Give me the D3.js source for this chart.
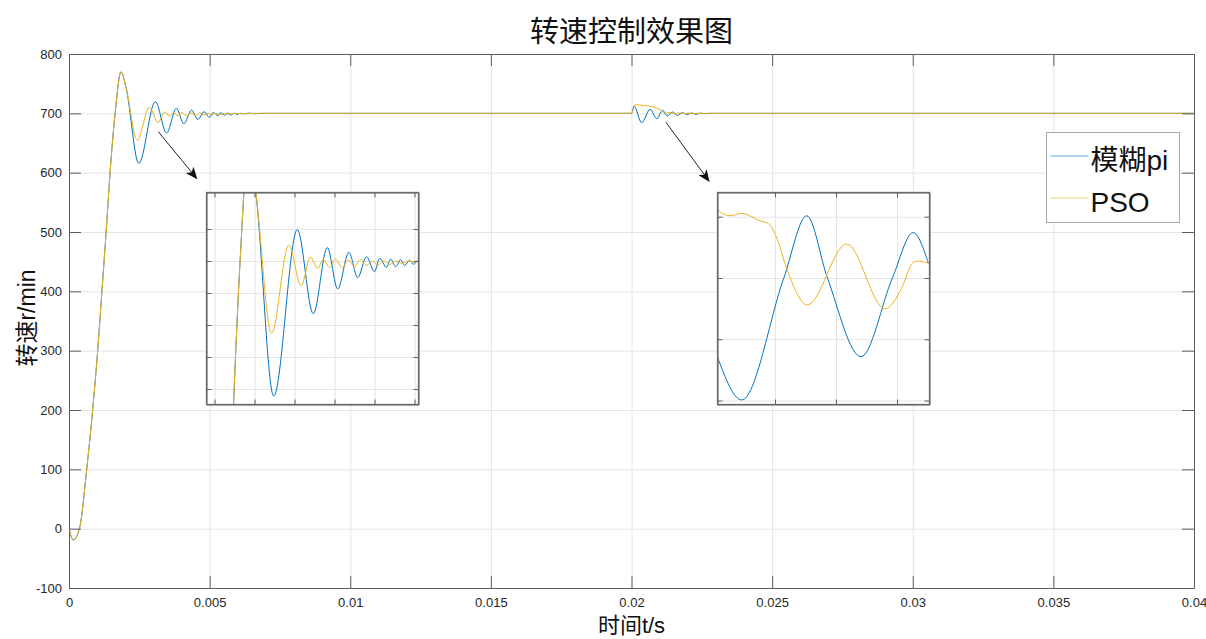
<!DOCTYPE html>
<meta charset="utf-8">
<style>
body { margin: 0; background: #fff; }
svg { display: block; font-family: "Liberation Sans", Arial, sans-serif; }
.grid line { stroke: #e4e4e4; stroke-width: 1px; }
.grid path { display: none; }
.axis path, .axis line { stroke: #5e5e5e; stroke-width: 1px; }
.axis text { fill: #262626; font-size: 13px; }
.line { fill: none; stroke-width: 1px; stroke-linejoin: round; }
.cjk { font-family: "Liberation Sans", "Noto Sans CJK SC", sans-serif; fill: #111; }
</style>
<svg width="1206" height="639"></svg>
<script src="https://cdn.jsdelivr.net/npm/d3@7/dist/d3.min.js"></script>
<script>
var title = "转速控制效果图",
    xLabel = "时间t/s",
    yLabel = "转速r/min",
    seriesNames = ["模糊pi", "PSO"],
    colors = ["#0072BD", "#EDB120"];

var xTicks = [0, 0.005, 0.01, 0.015, 0.02, 0.025, 0.03, 0.035, 0.04];
var yTicks = [-100, 0, 100, 200, 300, 400, 500, 600, 700, 800];

// start-up, both controllers overlap up to the first peak
var rise = [[0, 0], [0.00015, -19], [0.00037, 0], [0.00063, 100], [0.00084, 200],
  [0.00102, 300], [0.00117, 400], [0.00132, 500], [0.00146, 600], [0.00164, 700],
  [0.00185, 770]];

var fuzzyTail = [[0.00203, 743], [0.00248, 615.6], [0.00307, 719.6], [0.00347, 667],
  [0.00382, 708.4], [0.00408, 682.5], [0.00436, 705.4], [0.00458, 689.6], [0.0048, 702.7],
  [0.005, 693.3], [0.00513, 701.7], [0.0053, 696], [0.0054, 701.2], [0.00553, 696.5],
  [0.00565, 700.8], [0.00575, 697.1], [0.00588, 700.4], [0.00597, 697.9], [0.00608, 700],
  [0.0062, 699.2], [0.0064, 700.3], [0.0066, 699.5], [0.0069, 700], [0.02, 700],
  [0.02009, 712.4], [0.02036, 684.3], [0.02066, 706.7], [0.0209, 691], [0.02111, 705],
  [0.02127, 695.5], [0.02146, 702.3], [0.02163, 696.6], [0.02182, 701.1], [0.02196, 697.7],
  [0.02214, 700.6], [0.02229, 698.3], [0.02245, 700.3], [0.0226, 699.5], [0.0228, 700],
  [0.04, 700]];

var psoTail = [[0.00203, 743], [0.002425, 654.8], [0.002858, 710], [0.003167, 684.6],
  [0.0034, 702.3], [0.003583, 695.4], [0.003717, 701], [0.003883, 695.8], [0.004025, 701.2],
  [0.004192, 695.8], [0.004342, 700.6], [0.0045, 696.5], [0.00465, 701], [0.0048, 697.1],
  [0.004942, 700], [0.005083, 697.5], [0.005233, 700], [0.005383, 697.9], [0.005525, 700],
  [0.005692, 698.5], [0.005842, 700], [0.005983, 699.2], [0.006108, 700], [0.0063, 699.4],
  [0.0066, 700], [0.02, 700], [0.02012, 714.6], [0.02042, 713.2], [0.02078, 710.7],
  [0.02101, 706.2], [0.02119, 700], [0.02135, 701.3], [0.0215, 699.4], [0.02168, 700.8],
  [0.02185, 699.6], [0.022, 700.4], [0.0222, 700], [0.04, 700]];

var fuzzyMain = rise.concat(fuzzyTail),
    psoMain = rise.concat(psoTail);

// second zoom window (after the load step)
var fuzzyZoom2 = [[0.021011, 697.43], [0.021091, 696.02], [0.021229, 700], [0.021304, 702.03],
  [0.021372, 700], [0.021482, 697.43], [0.021585, 700], [0.021653, 701.48], [0.021703, 700.48]];
var psoZoom2 = [[0.021011, 702.22], [0.021052, 702.03], [0.021091, 702.11], [0.021124, 702.0],
  [0.021151, 701.86], [0.021178, 701.78], [0.021206, 701.3], [0.021238, 700.32],
  [0.021306, 699.12], [0.021435, 701.11], [0.021561, 698.99], [0.021615, 699.66],
  [0.021653, 700.51], [0.02167, 700.55], [0.021703, 700.48]];

var zoom1XTicks = [0.001, 0.002, 0.003, 0.004, 0.005, 0.006],
    zoom1YTicks = [620, 640, 660, 680, 700, 720],
    zoom2XTicks = [0.0212, 0.0214, 0.0216],
    zoom2YTicks = [696, 698, 700, 702];

// arrows, in data units: [from, to]
var arrows = [[[0.003175, 669], [0.00454, 590.4]], [[0.02122, 685.3], [0.022756, 585.8]]];

var svg = d3.select("svg"),
    margin = {top: 54, right: 12, bottom: 51, left: 69},
    width = +svg.attr("width") - margin.left - margin.right,
    height = +svg.attr("height") - margin.top - margin.bottom,
    g = svg.append("g").attr("transform", "translate(" + margin.left + "," + margin.top + ")");

var x = d3.scaleLinear().domain([0, 0.04]).range([0, width]);
var y = d3.scaleLinear().domain([-100, 800]).range([height, 0]);

var defs = svg.append("defs");
defs.append("marker")
    .attr("id", "head")
    .attr("markerUnits", "userSpaceOnUse")
    .attr("viewBox", "0 0 12 10")
    .attr("refX", 11).attr("refY", 5)
    .attr("markerWidth", 12).attr("markerHeight", 10)
    .attr("orient", "auto")
  .append("path")
    .attr("d", "M0,0 L12,5 L0,10 L3,5 z")
    .attr("fill", "#111");

// grid
g.append("g")
    .attr("class", "grid")
    .attr("transform", "translate(0," + height + ")")
    .call(d3.axisBottom(x).tickValues(xTicks).tickSize(-height).tickFormat(""));
g.append("g")
    .attr("class", "grid")
    .call(d3.axisLeft(y).tickValues(yTicks).tickSize(-width).tickFormat(""));

function lineFor(xs, ys) {
  return d3.line()
      .x(function(d) { return xs(d[0]); })
      .y(function(d) { return ys(d[1]); })
      .curve(d3.curveMonotoneX);
}

defs.append("clipPath").attr("id", "clip-main")
  .append("rect").attr("width", width).attr("height", height);

var mainLine = lineFor(x, y);
var plot = g.append("g").attr("clip-path", "url(#clip-main)");
[fuzzyMain, psoMain].forEach(function(s, i) {
  plot.append("path").datum(s).attr("class", "line")
      .attr("stroke", colors[i]).attr("d", mainLine);
});

// axes, ticks inward
g.append("g")
    .attr("class", "axis")
    .attr("transform", "translate(0," + height + ")")
    .call(d3.axisBottom(x).tickValues(xTicks).tickSizeInner(-12).tickSizeOuter(0)
      .tickPadding(10).tickFormat(function(d) { return String(d); }));
g.append("g")
    .attr("class", "axis")
    .call(d3.axisLeft(y).tickValues(yTicks).tickSizeInner(-12).tickSizeOuter(0)
      .tickPadding(7).tickFormat(function(d) { return String(d); }));
g.append("g")
    .attr("class", "axis")
    .call(d3.axisTop(x).tickValues(xTicks).tickSizeInner(-12).tickSizeOuter(0).tickFormat(""));
g.append("g")
    .attr("class", "axis")
    .attr("transform", "translate(" + width + ",0)")
    .call(d3.axisRight(y).tickValues(yTicks).tickSizeInner(-12).tickSizeOuter(0).tickFormat(""));

// arrows
arrows.forEach(function(a) {
  g.append("line")
      .attr("x1", x(a[0][0])).attr("y1", y(a[0][1]))
      .attr("x2", x(a[1][0])).attr("y2", y(a[1][1]))
      .attr("stroke", "#222").attr("stroke-width", 1)
      .attr("marker-end", "url(#head)");
});

// zoom windows
function drawInset(id, box, xDom, yDom, xT, yT, series) {
  var xs = d3.scaleLinear().domain(xDom).range([0, box.w]),
      ys = d3.scaleLinear().domain(yDom).range([box.h, 0]),
      gi = svg.append("g").attr("transform", "translate(" + box.x + "," + box.y + ")");

  gi.append("rect").attr("width", box.w).attr("height", box.h).attr("fill", "#fff");
  gi.append("g").attr("class", "grid")
      .attr("transform", "translate(0," + box.h + ")")
      .call(d3.axisBottom(xs).tickValues(xT).tickSize(-box.h).tickFormat(""));
  gi.append("g").attr("class", "grid")
      .call(d3.axisLeft(ys).tickValues(yT).tickSize(-box.w).tickFormat(""));

  defs.append("clipPath").attr("id", id)
    .append("rect").attr("width", box.w).attr("height", box.h);
  var l = lineFor(xs, ys),
      p = gi.append("g").attr("clip-path", "url(#" + id + ")");
  series.forEach(function(s, i) {
    p.append("path").datum(s).attr("class", "line")
        .attr("stroke", colors[i]).attr("d", l);
  });

  gi.append("g").attr("class", "axis").attr("transform", "translate(0," + box.h + ")")
      .call(d3.axisBottom(xs).tickValues(xT).tickSizeInner(-5).tickSizeOuter(0).tickFormat(""));
  gi.append("g").attr("class", "axis")
      .call(d3.axisTop(xs).tickValues(xT).tickSizeInner(-5).tickSizeOuter(0).tickFormat(""));
  gi.append("g").attr("class", "axis")
      .call(d3.axisLeft(ys).tickValues(yT).tickSizeInner(-5).tickSizeOuter(0).tickFormat(""));
  gi.append("g").attr("class", "axis").attr("transform", "translate(" + box.w + ",0)")
      .call(d3.axisRight(ys).tickValues(yT).tickSizeInner(-5).tickSizeOuter(0).tickFormat(""));
  gi.append("rect").attr("width", box.w).attr("height", box.h)
      .attr("fill", "none").attr("stroke", "#6a6a6a").attr("stroke-width", 1.3);
}

drawInset("clip-z1", {x: 206.5, y: 192.5, w: 212, h: 212},
  [0.0008, 0.0061], [610.3, 742.8], zoom1XTicks, zoom1YTicks, [fuzzyMain, psoMain]);
drawInset("clip-z2", {x: 717.5, y: 192.5, w: 212, h: 212},
  [0.0210115, 0.0217066], [695.87, 702.79], zoom2XTicks, zoom2YTicks, [fuzzyZoom2, psoZoom2]);

// legend
var lg = svg.append("g").attr("transform", "translate(1046.5,132.5)");
lg.append("rect").attr("width", 133).attr("height", 90)
    .attr("fill", "#fff").attr("stroke", "#a8a8a8").attr("stroke-width", 1);
seriesNames.forEach(function(name, i) {
  var yy = 23.5 + i * 42;
  lg.append("line").attr("x1", 4).attr("x2", 42).attr("y1", yy).attr("y2", yy)
      .attr("stroke", colors[i]).attr("stroke-width", 1).attr("stroke-opacity", 0.6);
  lg.append("text").attr("class", "cjk").attr("x", 44).attr("y", yy + 14)
      .attr("font-size", 28).text(name);
});

// titles
svg.append("text").attr("class", "cjk")
    .attr("x", margin.left + width / 2).attr("y", 42)
    .attr("text-anchor", "middle").attr("font-size", 29).text(title);
svg.append("text").attr("class", "cjk")
    .attr("x", margin.left + width / 2).attr("y", 633)
    .attr("text-anchor", "middle").attr("font-size", 22).text(xLabel);
svg.append("text").attr("class", "cjk")
    .attr("transform", "translate(35,318) rotate(-90)")
    .attr("text-anchor", "middle").attr("font-size", 23).text(yLabel);
</script>
